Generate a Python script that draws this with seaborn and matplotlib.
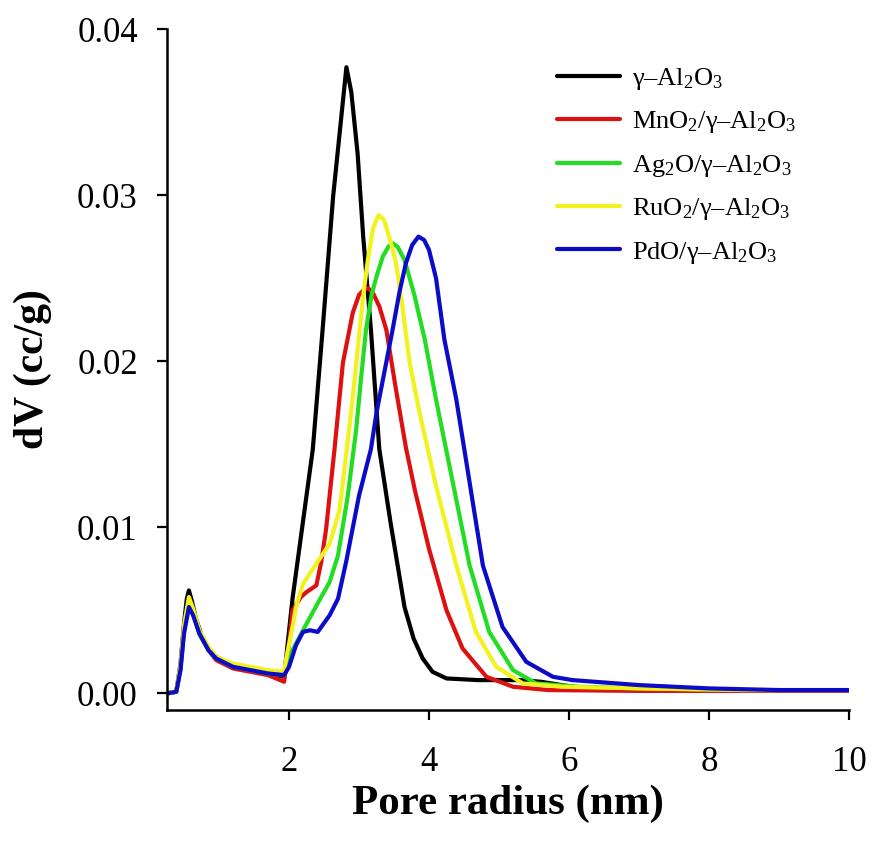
import matplotlib
matplotlib.use("Agg")
import matplotlib.pyplot as plt
import seaborn as sns
import pandas as pd

sns.set_theme(style="ticks")
plt.rcParams['font.family'] = ['Liberation Serif', 'DejaVu Serif']
plt.rcParams['mathtext.fontset'] = 'custom'
plt.rcParams['mathtext.rm'] = 'Liberation Serif'
plt.rcParams['mathtext.it'] = 'Liberation Serif:italic'
plt.rcParams['mathtext.bf'] = 'Liberation Serif:bold'
plt.rcParams['text.color'] = 'black'
plt.rcParams['axes.labelcolor'] = 'black'

# ---- data (pore radius nm, dV cc/g) ----
al_x = [0.26, 0.39, 0.45, 0.50, 0.54, 0.57, 0.61, 0.67, 0.75, 0.85, 0.96, 1.1, 1.3, 1.5, 1.7, 1.93,
        2.05, 2.34, 2.48, 2.63, 2.82, 2.89, 2.98, 3.06, 3.17, 3.29, 3.45, 3.56, 3.65, 3.78,
        3.91, 4.05, 4.25, 4.7, 5.3, 5.6, 6.2, 7.0, 8.0, 9.0, 10.0]
al_y = [0.0, 0.0001, 0.0018, 0.0042, 0.0057, 0.0062, 0.0056, 0.0045, 0.0035, 0.0027, 0.0022, 0.0019,
        0.0016, 0.0014, 0.0012, 0.0010, 0.0057, 0.0147, 0.0219, 0.0299, 0.0377, 0.0362,
        0.0325, 0.0275, 0.0219, 0.0147, 0.0103, 0.0075, 0.0052, 0.0033, 0.0021, 0.0013, 0.0009,
        0.0008, 0.0008, 0.0007, 0.0003, 0.0002, 0.0002, 0.0002, 0.0002]

mn_x = [0.26, 0.39, 0.45, 0.50, 0.57, 0.63, 0.72, 0.85, 0.96, 1.2, 1.45, 1.7, 1.93, 2.0, 2.05, 2.17,
        2.25, 2.39, 2.46, 2.53, 2.65, 2.77, 2.91, 3.0, 3.07, 3.13, 3.2, 3.29, 3.39, 3.52, 3.67, 3.8,
        4.0, 4.25, 4.48, 4.82, 5.2, 5.7, 7.0, 8.5, 10.0]
mn_y = [0.0, 0.0001, 0.0016, 0.0040, 0.0056, 0.0049, 0.0036, 0.0026, 0.0020, 0.0015, 0.0013, 0.0011,
        0.0007, 0.0030, 0.0050, 0.0058, 0.0061, 0.0065, 0.0079, 0.0099, 0.0147, 0.0199, 0.0229,
        0.0240, 0.0243, 0.0244, 0.0241, 0.0233, 0.0219, 0.0185, 0.0148, 0.0122, 0.0087, 0.0050,
        0.0027, 0.0010, 0.0004, 0.0002, 0.00015, 0.00015, 0.00015]

ag_x = [0.26, 0.39, 0.45, 0.50, 0.57, 0.63, 0.72, 0.85, 0.96, 1.2, 1.45, 1.7, 1.93, 2.05, 2.2, 2.42,
        2.58, 2.70, 2.84, 2.96, 3.03, 3.10, 3.18, 3.25, 3.34, 3.42, 3.48, 3.55, 3.65, 3.79, 3.94,
        4.10, 4.34, 4.58, 4.86, 5.2, 5.53, 6.15, 7.0, 8.5, 10.0]
ag_y = [0.0, 0.0001, 0.0015, 0.0038, 0.0054, 0.0048, 0.0036, 0.0026, 0.0021, 0.0016, 0.0014, 0.0012,
        0.0011, 0.0026, 0.0038, 0.0055, 0.0067, 0.0083, 0.0119, 0.0159, 0.0190, 0.0219, 0.0240,
        0.0251, 0.0263, 0.0269, 0.0271, 0.0269, 0.0261, 0.0240, 0.0213, 0.0177, 0.0127, 0.0077,
        0.0037, 0.0014, 0.0006, 0.0004, 0.0003, 0.0002, 0.0002]

ru_x = [0.26, 0.39, 0.45, 0.50, 0.57, 0.63, 0.72, 0.85, 0.96, 1.2, 1.45, 1.7, 1.93, 1.96, 2.05, 2.10,
        2.2, 2.39, 2.58, 2.72, 2.86, 2.94, 3.01, 3.07, 3.13, 3.2, 3.28, 3.36, 3.45, 3.53, 3.62, 3.72,
        3.86, 4.10, 4.39, 4.67, 4.96, 5.34, 5.9, 7.0, 8.5, 10.0]
ru_y = [0.0, 0.0001, 0.0017, 0.0041, 0.0058, 0.0051, 0.0038, 0.0028, 0.0022, 0.0018, 0.0016, 0.0014,
        0.0013, 0.0021, 0.0040, 0.0052, 0.0066, 0.0078, 0.0090, 0.0110, 0.0159, 0.0190, 0.0219,
        0.0243, 0.0262, 0.0280, 0.0288, 0.0285, 0.0272, 0.0259, 0.0233, 0.0200, 0.0170, 0.0125,
        0.0077, 0.0037, 0.0016, 0.0006, 0.0004, 0.0003, 0.0002, 0.0002]

pd_x = [0.26, 0.39, 0.45, 0.50, 0.57, 0.63, 0.72, 0.85, 0.96, 1.2, 1.45, 1.7, 1.93, 2.0, 2.1, 2.2,
        2.3, 2.41, 2.58, 2.70, 2.82, 3.0, 3.17, 3.25, 3.48, 3.58, 3.67, 3.76, 3.85, 3.93, 4.0, 4.1,
        4.22, 4.39, 4.58, 4.77, 5.05, 5.39, 5.77, 6.05, 7.0, 8.0, 9.0, 10.0]
pd_y = [0.0, 0.0001, 0.0014, 0.0036, 0.0052, 0.0047, 0.0036, 0.0026, 0.0021, 0.0016, 0.0014, 0.0012,
        0.0011, 0.0016, 0.0029, 0.0037, 0.0038, 0.0037, 0.0047, 0.0057, 0.0080, 0.0119, 0.0147,
        0.0169, 0.0219, 0.0242, 0.0259, 0.0270, 0.0275, 0.0273, 0.0267, 0.0250, 0.0213, 0.0177,
        0.0127, 0.0077, 0.0040, 0.0019, 0.0010, 0.0008, 0.0005, 0.0003, 0.0002, 0.0002]

labels = ['γ–Al$_2$O$_3$', 'MnO$_2$/γ–Al$_2$O$_3$', 'Ag$_2$O/γ–Al$_2$O$_3$',
          'RuO$_2$/γ–Al$_2$O$_3$', 'PdO/γ–Al$_2$O$_3$']
colors = ['#000000', '#dd1111', '#22dd22', '#f2f21e', '#0b0bc8']
series = [(al_x, al_y), (mn_x, mn_y), (ag_x, ag_y), (ru_x, ru_y), (pd_x, pd_y)]

x_ticks = [2, 4, 6, 8, 10]
y_ticks = [0.00, 0.01, 0.02, 0.03, 0.04]

fig = plt.figure(figsize=(8.72, 8.57), dpi=100)
ax = fig.add_axes([167/872, 1 - 710/857, (849 - 167)/872, (710 - 29)/857])

for (xs, ys), lab, col in zip(series, labels, colors):
    df = pd.DataFrame({'x': xs, 'y': ys})
    sns.lineplot(data=df, x='x', y='y', ax=ax, color=col, linewidth=3.0, label=lab, sort=False)
for ln in ax.lines:
    ln.set_linewidth(3.0)
    ln.set_solid_joinstyle('round')

ax.set_xlim(0.257, 10)
ax.set_ylim(-0.001, 0.04)
ax.set_xticks(x_ticks)
ax.set_xticklabels([str(t) for t in x_ticks])
ax.set_yticks(y_ticks)
ax.set_yticklabels([f'{t:.2f}' for t in y_ticks])
ax.tick_params(axis='both', direction='out', length=7, width=1.6, labelsize=25, color='black',
               labelcolor='black')
ax.tick_params(axis='x', pad=19)
ax.tick_params(axis='y', pad=14)
for s in ['top', 'right']:
    ax.spines[s].set_visible(False)
for s in ['left', 'bottom']:
    ax.spines[s].set_linewidth(1.8)
    ax.spines[s].set_color('black')

ax.set_xlabel('Pore radius (nm)', fontsize=31, fontweight='bold', labelpad=4, color='black')
ax.set_ylabel('dV (cc/g)', fontsize=30, fontweight='bold', labelpad=18, color='black')

leg = ax.legend(loc='upper left', bbox_to_anchor=((557 - 167)/682, (710 - 66)/681), frameon=False,
                fontsize=19, handlelength=2.4, handletextpad=0.45, labelspacing=0.66,
                borderaxespad=0, borderpad=0)
for h in leg.get_lines():
    h.set_linewidth(3.0)

fig.savefig('out.png', dpi=100, facecolor='white')
